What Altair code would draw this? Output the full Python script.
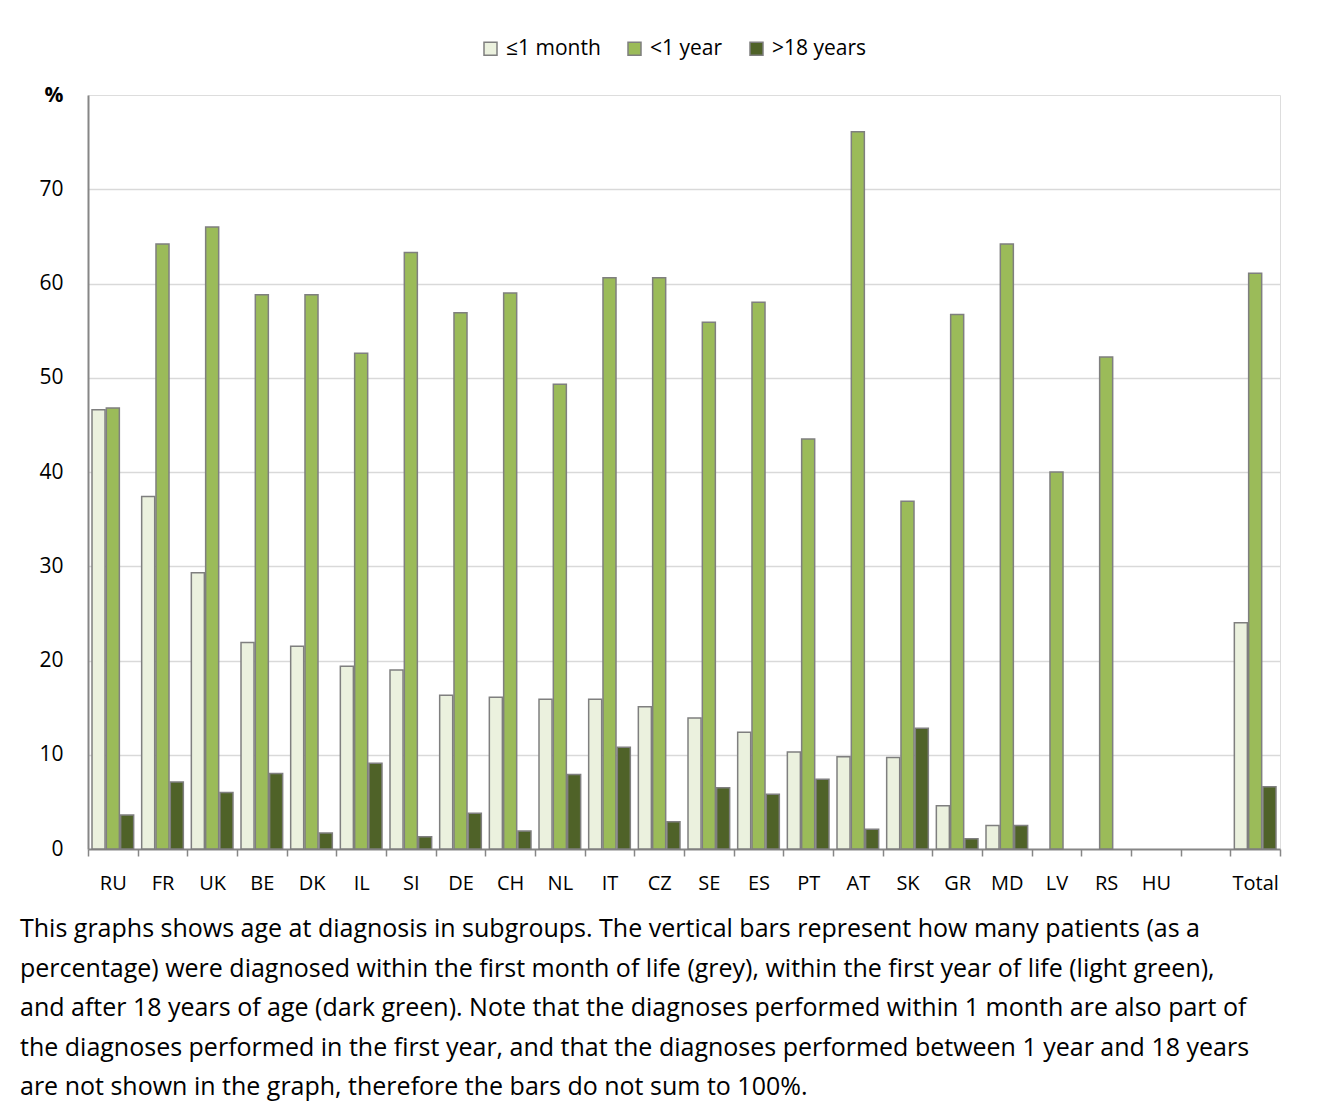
import altair as alt
import pandas as pd

countries = ["RU", "FR", "UK", "BE", "DK", "IL", "SI", "DE", "CH", "NL", "IT", "CZ",
             "SE", "ES", "PT", "AT", "SK", "GR", "MD", "LV", "RS", "HU", " ", "Total"]
series = ["≤1 month", "<1 year", ">18 years"]
colors = ["#ebf1de", "#9bbb59", "#4f6228"]

month1 = [46.6, 37.4, 29.3, 21.9, 21.5, 19.4, 19.0, 16.3, 16.1, 15.9, 15.9, 15.1,
          13.9, 12.4, 10.3, 9.8, 9.7, 4.6, 2.5, None, None, None, None, 24.0]
year1 = [46.8, 64.2, 66.0, 58.8, 58.8, 52.6, 63.3, 56.9, 59.0, 49.3, 60.6, 60.6,
         55.9, 58.0, 43.5, 76.1, 36.9, 56.7, 64.2, 40.0, 52.2, None, None, 61.1]
years18 = [3.6, 7.1, 6.0, 8.0, 1.7, 9.1, 1.3, 3.8, 1.9, 7.9, 10.8, 2.9,
           6.5, 5.8, 7.4, 2.1, 12.8, 1.1, 2.5, None, None, None, None, 6.6]

caption = [
    "This graphs shows age at diagnosis in subgroups. The vertical bars represent how many patients (as a",
    "percentage) were diagnosed within the first month of life (grey), within the first year of life (light green),",
    "and after 18 years of age (dark green). Note that the diagnoses performed within 1 month are also part of",
    "the diagnoses performed in the first year, and that the diagnoses performed between 1 year and 18 years",
    "are not shown in the graph, therefore the bars do not sum to 100%.",
]

rows = []
for name, vals in zip(series, [month1, year1, years18]):
    for c, v in zip(countries, vals):
        if v is not None:
            rows.append({"country": c, "series": name, "value": v})
df = pd.DataFrame(rows)

FONT = "Open Sans"

chart = alt.Chart(df).mark_bar(stroke="#7f7f7f", strokeWidth=1.5).encode(
    x=alt.X("country:N", sort=countries,
            scale=alt.Scale(domain=countries, paddingInner=0, paddingOuter=0),
            axis=alt.Axis(title=None, labelAngle=0, tickBand="extent", tickSize=7,
                          tickColor="#868686", tickWidth=1.5, domainColor="#868686",
                          domainWidth=2, labelPadding=17, labelFontSize=20,
                          labelColor="black", labelFont=FONT, grid=False)),
    xOffset=alt.XOffset("series:N", sort=series,
                        scale=alt.Scale(domain=series, paddingInner=0.09, paddingOuter=0.28)),
    y=alt.Y("value:Q", scale=alt.Scale(domain=[0, 80], nice=False),
            axis=alt.Axis(title=None, values=[0, 10, 20, 30, 40, 50, 60, 70, 80],
                          ticks=False, labelPadding=25, labelFontSize=21, labelColor="black",
                          labelFont=FONT,
                          labelExpr="datum.value == 80 ? '%' : datum.label",
                          labelFontWeight={"condition": {"test": "datum.value == 80", "value": "bold"},
                                           "value": "normal"},
                          domainColor="#868686", domainWidth=2,
                          gridColor="#d9d9d9", gridWidth=1.5,
                          gridOpacity={"condition": {"test": "datum.value == 80 || datum.value == 0",
                                                     "value": 0}, "value": 1})),
    color=alt.Color("series:N", sort=series,
                    scale=alt.Scale(domain=series, range=colors),
                    legend=alt.Legend(title=None, orient="none", legendX=392, legendY=-57,
                                      direction="horizontal", columns=3, symbolType="square",
                                      symbolSize=169, symbolStrokeColor="#7f7f7f",
                                      symbolStrokeWidth=1.5, labelFontSize=21, labelFont=FONT,
                                      labelColor="black", labelOffset=5, columnPadding=23)),
).properties(
    width=1192,
    height=754,
    autosize=alt.AutoSizeParams(type="none"),
    padding={"left": 80, "top": 87, "right": 30, "bottom": 254},
    title=alt.TitleParams(text=caption, orient="bottom", anchor="start", frame="group",
                          dx=-68, offset=24,
                          fontSize=25, font=FONT, fontWeight="normal", color="black",
                          lineHeight=39.5, baseline="top"),
).configure_view(stroke="#7f7f7f", strokeWidth=2.5).configure(background="white")

chart.save("out.html", embed_options={"renderer": "svg", "actions": False})
